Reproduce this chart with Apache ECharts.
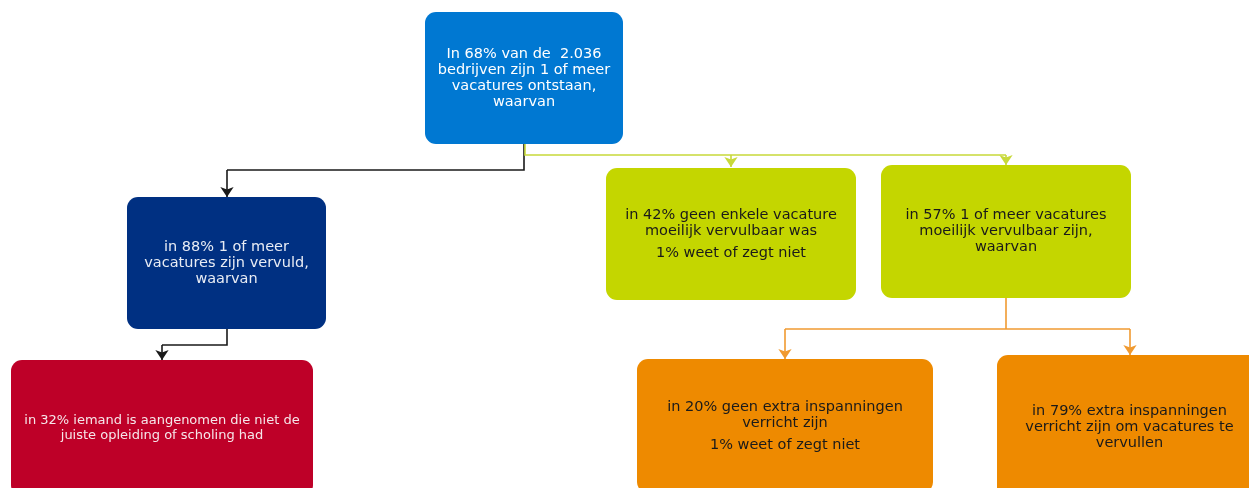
<!DOCTYPE html>
<html>
<head>
<meta charset="utf-8">
<script src="https://cdn.jsdelivr.net/npm/echarts@6/dist/echarts.min.js"></script>
<style>
  html, body { margin: 0; padding: 0; background: #fff; }
  #flowChart { width: 1249px; height: 488px; }
</style>
</head>
<body>
<div id="flowChart"></div>
<script>
// box texts (paragraphs per box)
var boxTexts = [
  ['In 68% van de  2.036\nbedrijven zijn 1 of meer\nvacatures ontstaan,\nwaarvan'],
  ['in 88% 1 of meer\nvacatures zijn vervuld,\nwaarvan'],
  ['in 42% geen enkele vacature\nmoeilijk vervulbaar was', '1% weet of zegt niet'],
  ['in 57% 1 of meer vacatures\nmoeilijk vervulbaar zijn,\nwaarvan'],
  ['in 32% iemand is aangenomen die niet de\njuiste opleiding of scholing had'],
  ['in 20% geen extra inspanningen\nverricht zijn', '1% weet of zegt niet'],
  ['in 79% extra inspanningen\nverricht zijn om vacatures te\nvervullen']
];
// box extents in diagram units
var boxLeft   = [425, 127, 606, 881, 11, 637, 997];
var boxRight  = [623, 326, 856, 1131, 313, 933, 1262];
var boxTop    = [12, 197, 168, 165, 360, 359, 355];
var boxBottom = [144, 329, 300, 298, 496, 493, 499];

var boxColors = ['#0078d2', '#003082', '#c4d600', '#c4d600', '#be0028', '#ee8a00', '#ee8a00'];
var textColors = ['#ffffff', '#e8ecf4', '#1a1a1a', '#1a1a1a', '#f6e6ea', '#1a1a1a', '#1a1a1a'];
var fontSizes = [14.5, 14.5, 14.5, 14.5, 13, 14.5, 14.5];
var lineHeights = [16, 16, 16, 16, 15, 16, 16];

// connectors: plain segments and arrow segments
var blackSegments = [
  [[524, 144], [524, 170], [227, 170]],
  [[227, 329], [227, 345], [162, 345]]
];
var blackArrows = [
  [[227, 170], [227, 197]],
  [[162, 345], [162, 360]]
];
var greenSegments = [
  [[525, 144], [525, 155], [1006, 155]]
];
var greenArrows = [
  [[731, 155], [731, 167]],
  [[1006, 155], [1006, 165]]
];
var orangeSegments = [
  [[1006, 298], [1006, 329]],
  [[785, 329], [1130, 329]]
];
var orangeArrows = [
  [[785, 329], [785, 359]],
  [[1130, 329], [1130, 355]]
];

var chart = echarts.init(document.getElementById('flowChart'));

function toLines(list) {
  return list.map(function (c) { return { coords: c }; });
}

function lineSeries(list, color, arrow) {
  return {
    type: 'lines',
    coordinateSystem: 'cartesian2d',
    polyline: !arrow,
    silent: true,
    symbol: arrow ? ['none', 'arrow'] : 'none',
    symbolSize: arrow ? 10 : 0,
    lineStyle: { color: color, width: 1.6, opacity: 1 },
    data: toLines(list),
    z: 1
  };
}

var boxData = boxLeft.map(function (x0, i) {
  return [x0, boxTop[i], boxRight[i], boxBottom[i]];
});

function renderBox(params, api) {
  var i = params.dataIndex;
  var p0 = api.coord([api.value(0), api.value(1)]);
  var p1 = api.coord([api.value(2), api.value(3)]);
  var cx = (p0[0] + p1[0]) / 2;
  var cy = (p0[1] + p1[1]) / 2;
  var size = fontSizes[i];
  var lh = lineHeights[i];
  var gap = 6;
  var paras = boxTexts[i];
  var total = 0;
  paras.forEach(function (p, k) {
    total += p.split('\n').length * lh + (k > 0 ? gap : 0);
  });
  var y = cy - total / 2;
  var children = [{
    type: 'rect',
    shape: { x: p0[0], y: p0[1], width: p1[0] - p0[0], height: p1[1] - p0[1], r: 11 },
    style: { fill: boxColors[i] }
  }];
  paras.forEach(function (p, k) {
    if (k > 0) y += gap;
    children.push({
      type: 'text',
      style: {
        text: p,
        x: cx,
        y: y,
        align: 'center',
        verticalAlign: 'top',
        font: size + 'px "DejaVu Sans", Verdana, sans-serif',
        lineHeight: lh,
        fill: textColors[i]
      }
    });
    y += p.split('\n').length * lh;
  });
  return { type: 'group', children: children };
}

var option = {
  animation: false,
  grid: { left: 0, right: 0, top: 0, bottom: 0 },
  xAxis: { type: 'value', min: 0, max: 1249, show: false },
  yAxis: { type: 'value', min: 0, max: 488, inverse: true, show: false },
  series: [
    lineSeries(blackSegments, '#1a1a1a', false),
    lineSeries(blackArrows, '#1a1a1a', true),
    lineSeries(greenSegments, '#c8d93a', false),
    lineSeries(greenArrows, '#c8d93a', true),
    lineSeries(orangeSegments, '#f09a30', false),
    lineSeries(orangeArrows, '#f09a30', true),
    {
      type: 'custom',
      coordinateSystem: 'cartesian2d',
      renderItem: renderBox,
      clip: false,
      silent: true,
      data: boxData,
      z: 2
    }
  ]
};

chart.setOption(option);
</script>
</body>
</html>
